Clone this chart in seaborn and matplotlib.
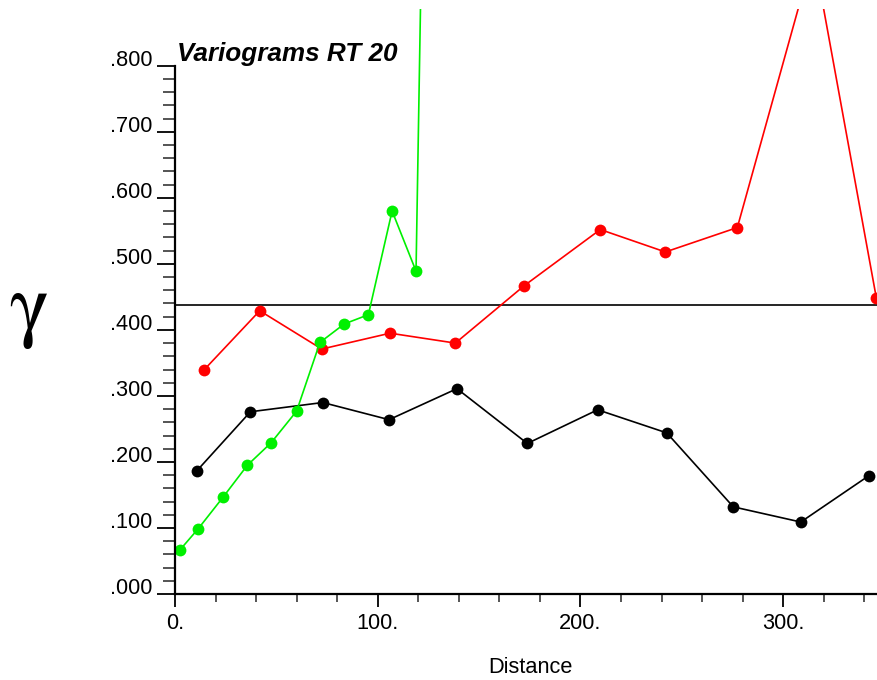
import numpy as np
import pandas as pd
import matplotlib
matplotlib.use("Agg")
import matplotlib.pyplot as plt
import seaborn as sns
from matplotlib.ticker import MultipleLocator, FuncFormatter, FixedLocator

# ---- data ----
green_x = [2.5, 11.5, 23.8, 35.7, 47.4, 60.0, 71.5, 83.5, 95.4, 107.1, 118.9, 130.8]
green_y = [0.067, 0.099, 0.147, 0.195, 0.229, 0.277, 0.381, 0.409, 0.423, 0.580, 0.489, 2.65]

red_x = [14.2, 41.8, 72.4, 106.1, 138.3, 172.3, 209.8, 241.9, 277.4, 315.0, 346.0]
red_y = [0.339, 0.429, 0.371, 0.395, 0.380, 0.467, 0.552, 0.518, 0.555, 0.97, 0.448]

black_x = [10.9, 37.2, 72.9, 105.6, 139.1, 173.8, 208.5, 242.6, 275.4, 308.7, 342.2]
black_y = [0.187, 0.276, 0.290, 0.264, 0.311, 0.228, 0.279, 0.244, 0.132, 0.109, 0.179]

sill = 0.4375
title = "Variograms RT 20"
xlabel = "Distance"
ylabel = r"$\mathrm{\gamma}$"

sns.set_theme(style="white")
plt.rcParams['font.family'] = ['Liberation Sans', 'DejaVu Sans']
plt.rcParams['mathtext.fontset'] = 'stix'

fig = plt.figure(figsize=(8.77, 6.80), dpi=100)
W, H = 877, 680
left, right, bottom, top = 175, 877, 594, 9
ax = fig.add_axes([left / W, 1 - bottom / H, (right - left) / W, (bottom - top) / H])

kw = dict(marker='o', markersize=8.5, markeredgewidth=0, linewidth=1.2, sort=False, ax=ax, legend=False)
sns.lineplot(x=black_x, y=black_y, color='black', **kw)
sns.lineplot(x=red_x, y=red_y, color='#ff0000', **kw)
sns.lineplot(x=green_x, y=green_y, color='#00f000', **kw)
ax.axhline(sill, color='black', linewidth=1.2, zorder=1)

ax.set_xlim(0, 346.3)
ax.set_ylim(0, 0.886)

for s in ['top', 'right']:
    ax.spines[s].set_visible(False)
for s in ['left', 'bottom']:
    ax.spines[s].set_color('black')
    ax.spines[s].set_linewidth(1.6)
ax.spines['left'].set_bounds(0, 0.8)

ax.xaxis.set_major_locator(MultipleLocator(100))
ax.xaxis.set_minor_locator(MultipleLocator(20))
ax.set_yticks([0, 0.1, 0.2, 0.3, 0.4, 0.5, 0.6, 0.7, 0.8])
ax.yaxis.set_minor_locator(FixedLocator(np.arange(0, 0.8001, 0.02)))
ax.xaxis.set_major_formatter(FuncFormatter(lambda v, p: f"{v:.0f}."))
ax.yaxis.set_major_formatter(FuncFormatter(lambda v, p: f"{v:.3f}"[1:]))

ax.tick_params(axis='y', which='major', direction='out', length=13, width=1.3, labelsize=15.7, pad=3.5, colors='black', left=True)
ax.tick_params(axis='y', which='minor', direction='out', length=8.5, width=1.1, left=True)
ax.tick_params(axis='x', which='major', direction='out', length=9.5, width=1.3, labelsize=15.7, pad=4, colors='black', bottom=True)
ax.tick_params(axis='x', which='minor', direction='out', length=6, width=1.1, bottom=True)
for lab in ax.get_yticklabels():
    lab.set_va('baseline')

ax.set_xlabel(xlabel, fontsize=15.7, color='black')
ax.xaxis.set_label_coords((530 - left) / (right - left), -(657 - bottom) / (bottom - top))
ax.xaxis.label.set_va('top')
ax.set_ylabel(ylabel, rotation=0, fontsize=60, color='black')
ax.yaxis.label.set_ha('center')
ax.yaxis.label.set_va('center')
ax.yaxis.set_label_coords((28 - left) / (right - left), (bottom - 312) / (bottom - top))

fig.text(177 / W, 1 - 61 / H, title, fontsize=18.8, fontweight='bold', fontstyle='italic',
         ha='left', va='baseline', color='black')

fig.savefig('out.png', dpi=100)
